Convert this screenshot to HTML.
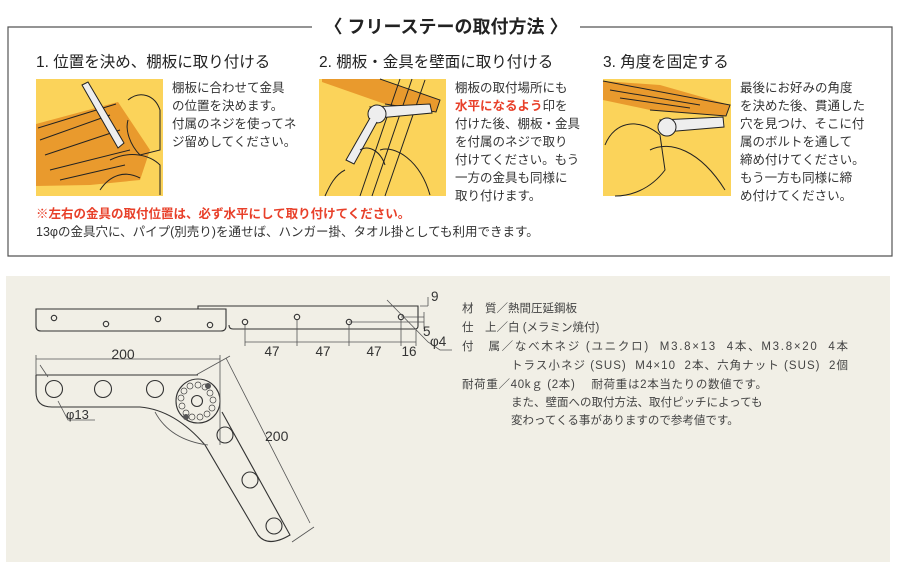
<!DOCTYPE html>
<html><head><meta charset="utf-8"><style>
html,body{margin:0;padding:0;background:#fff;}
svg{display:block;}
text{font-family:"Liberation Sans","Noto Sans CJK JP",sans-serif;}
</style></head><body>
<svg width="899" height="567" viewBox="0 0 899 567" xmlns="http://www.w3.org/2000/svg">
<!-- frame -->
<path d="M312 27 H8 V256 H892 V27 H580" fill="none" stroke="#555" stroke-width="1.2"/>
<text x="446" y="33" font-size="18" font-weight="bold" fill="#222" text-anchor="middle">〈 フリーステーの取付方法 〉</text>

<!-- headings -->
<g font-size="15.5" fill="#222">
<text x="36" y="67">1. 位置を決め、棚板に取り付ける</text>
<text x="319" y="67">2. 棚板・金具を壁面に取り付ける</text>
<text x="603" y="67">3. 角度を固定する</text>
</g>

<!-- illustration 1 -->
<rect x="36" y="79" width="127" height="117" fill="#fbd35a"/>
<polygon points="36,124 118,102 150,150 140,180 90,185 36,186" fill="#e99a2d"/>
<g stroke="#222" stroke-width="1" fill="none">
<path d="M40 140 L110 115 M45 155 L120 130 M50 170 L130 150 M60 180 L125 165 M38 128 L116 104"/>
<path d="M82 85 L118 148 L124 143 L88 82 Z" fill="#eee"/>
<path d="M128 100 C140 90 155 95 160 110 L160 150 L140 155 C130 145 125 130 128 120"/>
<path d="M110 160 C130 150 150 155 160 165 L160 195 M100 190 C110 175 125 170 140 178"/>
</g>
<!-- illustration 2 -->
<rect x="319" y="79" width="127" height="117" fill="#fbd35a"/>
<polygon points="322,79 380,79 440,100 436,112 385,104 322,82" fill="#e99a2d"/>
<g stroke="#222" stroke-width="1" fill="none">
<path d="M380 79 L440 100 L436 112 L385 104"/>
<path d="M400 79 L360 196 M412 79 L372 196 M425 80 L385 196"/>
<path d="M370 107 L430 104 L432 113 L378 118 Z" fill="#eee"/>
<circle cx="377" cy="114" r="9" fill="#eee"/>
<path d="M370 118 L346 160 L354 164 L377 122" fill="#eee"/>
<path d="M380 150 C395 145 420 160 430 195 M360 150 C368 145 380 150 385 165 M325 196 C330 185 335 175 345 170"/>
</g>
<!-- illustration 3 -->
<rect x="603" y="79" width="128" height="117" fill="#fbd35a"/>
<polygon points="603,81 660,85 730,105 726,116 650,110 603,100" fill="#e99a2d"/>
<g stroke="#222" stroke-width="1" fill="none">
<path d="M603 81 L730 105 L726 116 L650 110 M610 90 L700 105 M620 98 L690 108"/>
<path d="M660 120 L723 117 L724 127 L665 132 Z" fill="#eee"/>
<circle cx="667" cy="127" r="9" fill="#eee"/>
<path d="M605 145 C615 120 640 118 660 135 L665 170 C650 190 630 196 615 196 M650 150 C670 140 700 150 725 190"/>
</g>

<!-- step texts -->
<g font-size="12.5" fill="#333">
<text x="172" y="92">棚板に合わせて金具</text>
<text x="172" y="110">の位置を決めます。</text>
<text x="172" y="128">付属のネジを使ってネ</text>
<text x="172" y="146">ジ留めしてください。</text>
<text x="455" y="92">棚板の取付場所にも</text>
<text x="455" y="110"><tspan fill="#e8402a" font-weight="bold">水平になるよう</tspan>印を</text>
<text x="455" y="128">付けた後、棚板・金具</text>
<text x="455" y="146">を付属のネジで取り</text>
<text x="455" y="164">付けてください。もう</text>
<text x="455" y="182">一方の金具も同様に</text>
<text x="455" y="200">取り付けます。</text>
<text x="740" y="92">最後にお好みの角度</text>
<text x="740" y="110">を決めた後、貫通した</text>
<text x="740" y="128">穴を見つけ、そこに付</text>
<text x="740" y="146">属のボルトを通して</text>
<text x="740" y="164">締め付けてください。</text>
<text x="740" y="182">もう一方も同様に締</text>
<text x="740" y="200">め付けてください。</text>
</g>
<text x="36" y="218" font-size="12.5" font-weight="bold" fill="#e8402a">※左右の金具の取付位置は、必ず水平にして取り付けてください。</text>
<text x="36" y="236" font-size="12.5" fill="#333">13φの金具穴に、パイプ(別売り)を通せば、ハンガー掛、タオル掛としても利用できます。</text>

<!-- bottom panel -->
<rect x="6" y="276" width="884" height="286" fill="#f1efe6"/>
<g stroke="#333" stroke-width="1.1" fill="none">
<path d="M36 309 H226 V326 Q226 331 221 331 H41 Q36 331 36 326 Z"/>
<path d="M198 309 V306 H418 V326 Q418 329 415 329 H233 Q229 329 229 325"/>
<circle cx="54" cy="318" r="2.7"/><circle cx="106" cy="324" r="2.7"/><circle cx="158" cy="319" r="2.7"/><circle cx="210" cy="325" r="2.7"/>
<circle cx="245" cy="322" r="2.7"/><circle cx="297" cy="317" r="2.7"/><circle cx="349" cy="322" r="2.7"/><circle cx="401" cy="317" r="2.7"/>
</g>
<g stroke="#555" stroke-width="0.8" fill="none">
<path d="M245 325 V346 M297 320 V346 M349 325 V346 M401 320 V346 M416 330 V346"/>
<path d="M245 342 H416"/>
<path d="M349 322 H424 M401 317 H424 M420 306 H428 M428 297 V306 M424 312 V329"/>
<path d="M387 300 L428 342 L440 350 H452"/>
</g>
<g font-size="13.5" fill="#333" text-anchor="middle">
<text x="272" y="356">47</text><text x="323" y="356">47</text><text x="374" y="356">47</text><text x="409" y="356">16</text>
</g>
<g font-size="13.5" fill="#333">
<text x="431" y="301">9</text><text x="423" y="336">5</text><text x="430" y="346">φ4</text>
</g>

<!-- bracket -->
<g stroke="#333" stroke-width="1.1" fill="none">
<path d="M36 375 H198 M36 375 V392 Q36 407 52 407 H140 Q175 410 205 445 L258 535 Q268 548 290 535 L222 412"/>
<circle cx="198" cy="401" r="22"/>
<circle cx="54" cy="389" r="8.5"/><circle cx="103" cy="389" r="8.5"/><circle cx="155" cy="389" r="8.5"/>
<circle cx="197" cy="401" r="5.5"/>
<circle cx="225" cy="435" r="8"/><circle cx="250" cy="480" r="8"/><circle cx="274" cy="526" r="8"/>
</g>
<g stroke="#444" stroke-width="0.7" fill="none">
<circle cx="198" cy="385" r="3"/><circle cx="205" cy="387" r="3"/><circle cx="210" cy="393" r="3"/><circle cx="213" cy="400" r="3"/><circle cx="212" cy="408" r="3"/><circle cx="207" cy="414" r="3"/><circle cx="200" cy="417" r="3"/><circle cx="192" cy="417" r="3"/><circle cx="186" cy="413" r="3"/><circle cx="182" cy="406" r="3"/><circle cx="181" cy="398" r="3"/><circle cx="184" cy="391" r="3"/><circle cx="190" cy="386" r="3"/>
</g>
<circle cx="208" cy="386" r="3" fill="#555"/><circle cx="186" cy="417" r="3" fill="#555"/>
<g stroke="#555" stroke-width="0.8" fill="none">
<path d="M36 355 V375 M220 355 V445 M36 359 H220"/>
<path d="M196 375 L230 356 M292 542 L314 527 M226 358 L310 523"/>
<path d="M155 412 Q170 440 208 445"/>
<path d="M40 365 L48 377 M58 401 L68 420 H95"/>
</g>
<text x="123" y="359" font-size="14" fill="#333" text-anchor="middle">200</text>
<text x="265" y="441" font-size="14" fill="#333">200</text>
<text x="66" y="419" font-size="13" fill="#333">φ13</text>

<!-- specs -->
<g font-size="11.5" fill="#444">
<text x="462" y="312">材　質／熱間圧延鋼板</text>
<text x="462" y="331">仕　上／白 (メラミン焼付)</text>
<text x="462" y="350" textLength="386" lengthAdjust="spacing" xml:space="preserve">付　属／なべ木ネジ (ユニクロ)  M3.8×13  4本、M3.8×20  4本</text>
<text x="511" y="369" textLength="337" lengthAdjust="spacing" xml:space="preserve">トラス小ネジ (SUS)  M4×10  2本、六角ナット (SUS)  2個</text>
<text x="462" y="388" textLength="305" lengthAdjust="spacing" xml:space="preserve">耐荷重／40kｇ (2本)　 耐荷重は2本当たりの数値です。</text>
<text x="511" y="406">また、壁面への取付方法、取付ピッチによっても</text>
<text x="511" y="424">変わってくる事がありますので参考値です。</text>
</g>
</svg>
</body></html>
